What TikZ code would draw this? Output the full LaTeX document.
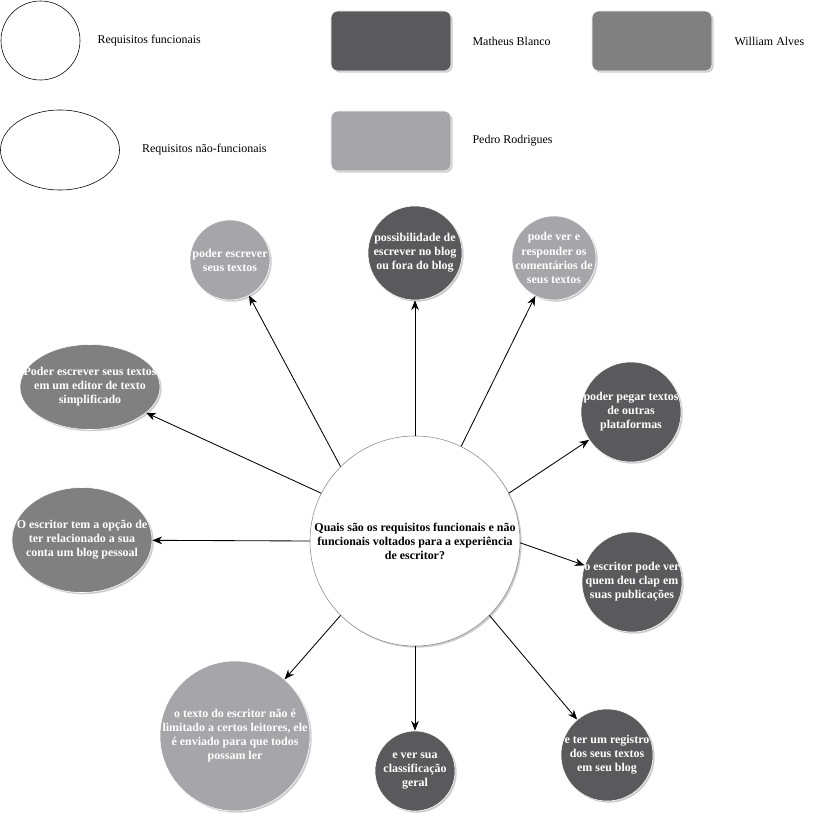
\documentclass[tikz,border=0pt]{standalone}
\usepackage{fontspec}
\setmainfont{Liberation Serif}
\usetikzlibrary{arrows.meta,positioning,shapes.geometric,shadows}

\definecolor{matheus}{HTML}{5A5A5C}
\definecolor{william}{HTML}{808080}
\definecolor{pedro}{HTML}{A6A6AA}
\definecolor{rim}{HTML}{8C8C8C}

\begin{document}
\begin{tikzpicture}[
  x=0.025cm, y=-0.025cm,
  >={Stealth[length=7pt,width=5.5pt]},
  font=\fontsize{8.5}{10}\selectfont,
  shade/.style={drop shadow={shadow xshift=1.2pt, shadow yshift=-1.2pt, fill=black!40, opacity=0.5}},
  func/.style={circle, draw=white, inner sep=0pt, shade},
  nfunc/.style={ellipse, draw=white, inner sep=0pt, shade},
  txt/.style={align=center, text=white, font=\fontsize{8.5}{10}\selectfont\bfseries, inner sep=0pt},
  qtxt/.style={txt, text=black},
  key/.style={rectangle, draw=white, rounded corners=5pt, minimum width=3cm, minimum height=1.5cm, shade},
  keytext/.style={inner sep=0pt},
  link/.style={->, line width=0.6pt},
]
\useasboundingbox (0,0) rectangle (823,814);

% legend
\node[circle, draw, inner sep=0pt, minimum size=1.975cm] (kfunc) at (40.5,40.5) {};
\node[keytext, right=0.425cm of kfunc] (kfunct) {Requisitos funcionais};
\node[ellipse, draw, inner sep=0pt, minimum width=2.975cm, minimum height=2cm] (knfunc) at (60,150) {};
\node[keytext, right=0.55cm of knfunc] (knfunct) {Requisitos não-funcionais};
\node[key, fill=matheus] (kmat) at (391,41) {};
\node[keytext, right=0.525cm of kmat] (kmatt) {Matheus Blanco};
\node[key, fill=william] (kwil) at (652,41) {};
\node[keytext, right=0.55cm of kwil] (kwilt) {William Alves};
\node[key, fill=pedro] (kped) at (391,141) {};
\node[keytext, right=0.525cm of kped] (kpedt) {Pedro Rodrigues};

% central question
\node[circle, draw=rim, fill=white, inner sep=0pt, minimum size=5.25cm, shade,
  label={[qtxt]center:{Quais são os requisitos funcionais e não\\funcionais voltados para a experiência\\de escritor?}}] (ctr) at (415,541) {};

% requirements
\node[func, fill=pedro, minimum size=2cm,
  label={[txt]center:{poder escrever\\seus textos}}] (n1) at (230,260) {};
\node[func, fill=matheus, minimum size=2.35cm,
  label={[txt]center:{possibilidade de\\escrever no blog\\ou fora do blog}}] (n2) at (415,253) {};
\node[func, fill=pedro, minimum size=2.1cm,
  label={[txt]center:{pode ver e\\responder os\\comentários de\\seus textos}}] (n3) at (554,258) {};
\node[nfunc, fill=william, minimum width=3.5cm, minimum height=2.125cm,
  label={[txt]center:{Poder escrever seus textos\\em um editor de texto\\simplificado}}] (n4) at (90,387) {};
\node[func, fill=matheus, minimum size=2.5cm,
  label={[txt]center:{poder pegar textos\\de outras\\plataformas}}] (n5) at (631,412) {};
\node[nfunc, fill=william, minimum width=3.5cm, minimum height=2.625cm,
  label={[txt]center:{O escritor tem a opção de\\ter relacionado a sua\\conta um blog pessoal}}] (n6) at (82,540) {};
\node[func, fill=matheus, minimum size=2.5cm,
  label={[txt]center:{o escritor pode ver\\quem deu clap em\\suas publicações}}] (n7) at (632,582) {};
\node[func, fill=pedro, minimum size=3.75cm,
  label={[txt]center:{o texto do escritor não é\\limitado a certos leitores, ele\\é enviado para que todos\\possam ler}}] (n8) at (235,736) {};
\node[func, fill=matheus, minimum size=2cm,
  label={[txt]center:{e ver sua\\classificação\\geral}}] (n9) at (415,771) {};
\node[func, fill=matheus, minimum size=2.3cm,
  label={[txt]center:{e ter um registro\\dos seus textos\\em seu blog}}] (n10) at (607,755) {};

% links
\draw[link] (ctr.135) -- (n1);
\draw[link] (ctr.90)  -- (n2);
\draw[link] (ctr.64)  -- (n3);
\draw[link] (ctr.153) -- (n4);
\draw[link] (ctr.27)  -- (n5);
\draw[link] (ctr.180) -- (n6);
\draw[link] (ctr.-1)  -- (n7);
\draw[link] (ctr.225) -- (n8);
\draw[link] (ctr.270) -- (n9);
\draw[link] (ctr.315) -- (n10);

\end{tikzpicture}
\end{document}
